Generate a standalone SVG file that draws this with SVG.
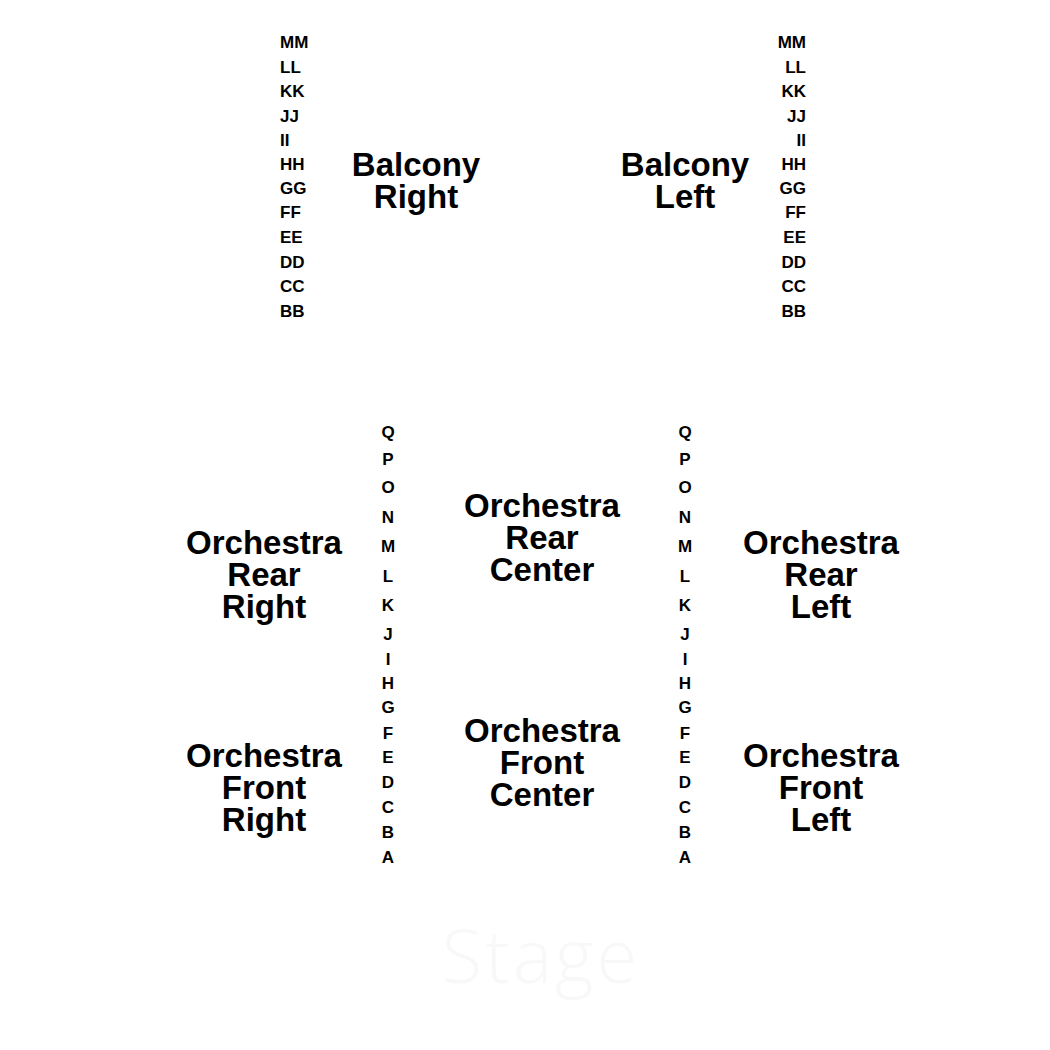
<svg xmlns="http://www.w3.org/2000/svg" width="1050" height="1050" viewBox="0 0 1050 1050">
<style>
.row{font-family:"Liberation Sans",Arial,sans-serif;font-weight:bold;font-size:17px;fill:#000}
.sec{font-family:"Liberation Sans",Arial,sans-serif;font-weight:bold;font-size:33px;fill:#000;text-anchor:middle}
.stage{font-family:"Open Sans","Liberation Sans",sans-serif;font-weight:300;font-size:74px;letter-spacing:3px;fill:#f8f8f8;text-anchor:middle}
.mid{text-anchor:middle}
.end{text-anchor:end}
</style>
<rect width="1050" height="1050" fill="#fff"/>
<g id="balcony-right-rows" class="row">
<text x="280" y="48">MM</text><text x="280" y="73">LL</text><text x="280" y="97">KK</text><text x="280" y="122">JJ</text>
<text x="280" y="146">II</text><text x="280" y="170">HH</text><text x="280" y="194">GG</text><text x="280" y="218">FF</text>
<text x="280" y="243">EE</text><text x="280" y="268">DD</text><text x="280" y="292">CC</text><text x="280" y="317">BB</text>
</g>
<g id="balcony-left-rows" class="row end">
<text x="806" y="48">MM</text><text x="806" y="73">LL</text><text x="806" y="97">KK</text><text x="806" y="122">JJ</text>
<text x="806" y="146">II</text><text x="806" y="170">HH</text><text x="806" y="194">GG</text><text x="806" y="218">FF</text>
<text x="806" y="243">EE</text><text x="806" y="268">DD</text><text x="806" y="292">CC</text><text x="806" y="317">BB</text>
</g>
<g id="balcony-right" class="sec"><text x="416" y="176">Balcony</text><text x="416" y="208">Right</text></g>
<g id="balcony-left" class="sec"><text x="685" y="176">Balcony</text><text x="685" y="208">Left</text></g>
<g id="orch-rows-1" class="row mid">
<text x="388" y="438">Q</text><text x="388" y="465">P</text><text x="388" y="493">O</text><text x="388" y="523">N</text>
<text x="388" y="552">M</text><text x="388" y="582">L</text><text x="388" y="611">K</text><text x="388" y="640">J</text>
<text x="388" y="665">I</text><text x="388" y="689">H</text><text x="388" y="713">G</text><text x="388" y="739">F</text>
<text x="388" y="763">E</text><text x="388" y="788">D</text><text x="388" y="813">C</text><text x="388" y="838">B</text>
<text x="388" y="863">A</text>
</g>
<g id="orch-rows-2" class="row mid">
<text x="685" y="438">Q</text><text x="685" y="465">P</text><text x="685" y="493">O</text><text x="685" y="523">N</text>
<text x="685" y="552">M</text><text x="685" y="582">L</text><text x="685" y="611">K</text><text x="685" y="640">J</text>
<text x="685" y="665">I</text><text x="685" y="689">H</text><text x="685" y="713">G</text><text x="685" y="739">F</text>
<text x="685" y="763">E</text><text x="685" y="788">D</text><text x="685" y="813">C</text><text x="685" y="838">B</text>
<text x="685" y="863">A</text>
</g>
<g id="orch-rear-right" class="sec"><text x="264" y="554">Orchestra</text><text x="264" y="586">Rear</text><text x="264" y="618">Right</text></g>
<g id="orch-rear-center" class="sec"><text x="542" y="517">Orchestra</text><text x="542" y="549">Rear</text><text x="542" y="581">Center</text></g>
<g id="orch-rear-left" class="sec"><text x="821" y="554">Orchestra</text><text x="821" y="586">Rear</text><text x="821" y="618">Left</text></g>
<g id="orch-front-right" class="sec"><text x="264" y="767">Orchestra</text><text x="264" y="799">Front</text><text x="264" y="831">Right</text></g>
<g id="orch-front-center" class="sec"><text x="542" y="742">Orchestra</text><text x="542" y="774">Front</text><text x="542" y="806">Center</text></g>
<g id="orch-front-left" class="sec"><text x="821" y="767">Orchestra</text><text x="821" y="799">Front</text><text x="821" y="831">Left</text></g>
<g id="stage"><text class="stage" x="541" y="983">Stage</text></g>
<g id="connectors"/>
</svg>
